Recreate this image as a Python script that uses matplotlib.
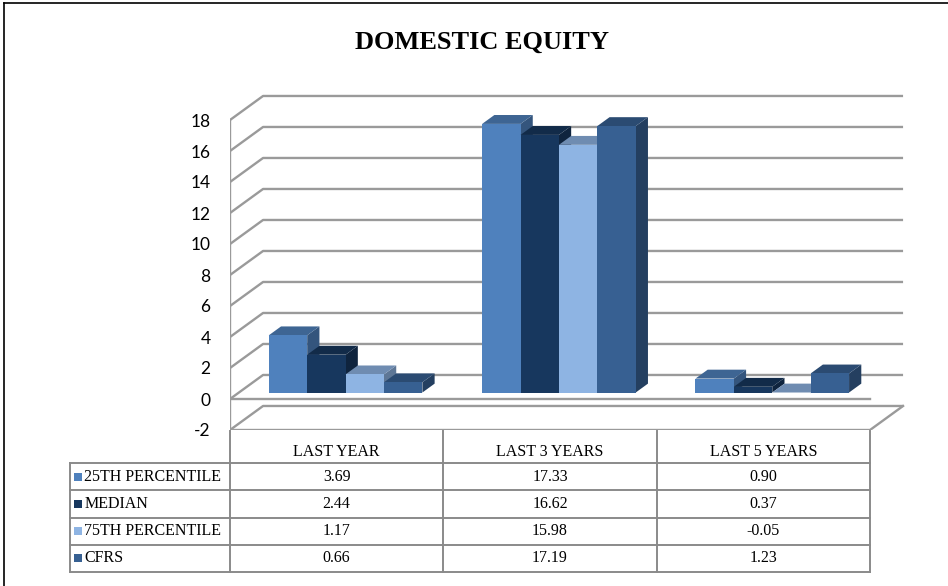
import numpy as np
import matplotlib.pyplot as plt
from matplotlib.patches import Polygon, Rectangle
from matplotlib.colors import to_rgb

categories = ['LAST YEAR', 'LAST 3 YEARS', 'LAST 5 YEARS']
series_names = ['25TH PERCENTILE', 'MEDIAN', '75TH PERCENTILE', 'CFRS']
p25 = [3.69, 17.33, 0.90]
median = [2.44, 16.62, 0.37]
p75 = [1.17, 15.98, -0.05]
cfrs = [0.66, 17.19, 1.23]
yticks = list(range(-2, 19, 2))

series = [p25, median, p75, cfrs]
colors = ['#4F81BD', '#17375E', '#8EB4E3', '#376092']
grid_color = '#9a9a9a'

W, H = 948, 586
fig = plt.figure(figsize=(W / 100, H / 100), dpi=100)

# oblique "3d" offsets (category units / value units)
DX, DY = 0.155, 1.55
D0, D1 = 0.27, 0.64      # depth range of bars
bar_w = 0.18
gap = (1 - 4 * bar_w) / 2

# main axes: x=0 at 230px, 213.33 px per category; y=-2 at 430px, 15.5 px per unit
px_cat, px_val = 640 / 3, 15.5
ax = fig.add_axes([230 / W, (H - 430) / H, 680 / W, 340 / H])
ax.set_xlim(0, 680 / px_cat)
ax.set_ylim(-2, -2 + 340 / px_val)
for s in ax.spines.values():
    s.set_visible(False)
ax.set_xticks([])
ax.set_yticks(yticks)
ax.set_yticklabels([str(t) for t in yticks], family='Lato', fontsize=12.5)
ax.tick_params(axis='y', length=0, pad=14)
ax.patch.set_alpha(0)


def P(x, y, d):
    return (x + d * DX, y + d * DY)


# walls / gridlines
n = len(categories)
for t in yticks:
    xs = [0, DX, n + DX]
    ys = [t, t + DY, t + DY]
    ax.plot(xs, ys, color=grid_color, lw=1.7, zorder=1, solid_capstyle='butt')
ax.plot([0, 0], [-2, 18], color=grid_color, lw=1.7, zorder=1)
# floor front and right edges
ax.plot([0, n, n + DX], [-2, -2, -2 + DY], color=grid_color, lw=1.7, zorder=1)
# category axis line at zero
ax.plot([0, n], [0, 0], color=grid_color, lw=1.7, zorder=1)


def shade(c, f):
    r, g, b = to_rgb(c)
    return (r * f, g * f, b * f)


z = 2
for i in range(n):
    for j, vals in enumerate(series):
        v = vals[i]
        x0 = i + gap + j * bar_w
        y0, y1 = min(0, v), max(0, v)
        front = [P(x0, y0, D0), P(x0 + bar_w, y0, D0), P(x0 + bar_w, y1, D0), P(x0, y1, D0)]
        top = [P(x0, y1, D0), P(x0 + bar_w, y1, D0), P(x0 + bar_w, y1, D1), P(x0, y1, D1)]
        side = [P(x0 + bar_w, y0, D0), P(x0 + bar_w, y0, D1), P(x0 + bar_w, y1, D1), P(x0 + bar_w, y1, D0)]
        ax.add_patch(Polygon(side, closed=True, fc=shade(colors[j], 0.66), ec='none', zorder=z))
        ax.add_patch(Polygon(top, closed=True, fc=shade(colors[j], 0.78), ec='none', zorder=z + 1))
        ax.add_patch(Polygon(front, closed=True, fc=colors[j], ec='none', zorder=z + 2))
        z += 3

# data table
tab = fig.add_axes([70 / W, (H - 573) / H, 800 / W, 142 / H])
tab.set_xlim(-0.75, 3)
tab.set_ylim(142, 0)
tab.axis('off')
row_edges = [0, 32, 59.25, 86.5, 113.75, 141]
tcol = '#8a8a8a'
for x in [0, 1, 2, 3]:
    tab.plot([x, x], [0, row_edges[-1]], color=tcol, lw=1.4, clip_on=False)
tab.plot([-0.75, -0.75], [row_edges[1], row_edges[-1]], color=tcol, lw=1.4, clip_on=False)
for r in row_edges[1:]:
    tab.plot([-0.75, 3], [r, r], color=tcol, lw=1.4, clip_on=False)
serif = 'Liberation Serif'
for i, c in enumerate(categories):
    tab.text(i + 0.5, 21, c, ha='center', va='center', family=serif, fontsize=11.5)
for j, (name, vals) in enumerate(zip(series_names, series)):
    yc = (row_edges[j + 1] + row_edges[j + 2]) / 2
    tab.add_patch(Rectangle((-0.73, yc - 4), 8 / px_cat, 8, fc=colors[j], ec='none', clip_on=False))
    tab.text(-0.73 + 10 / px_cat, yc, name, ha='left', va='center', family=serif, fontsize=11.5)
    for i, v in enumerate(vals):
        tab.text(i + 0.5, yc, '{:.2f}'.format(v), ha='center', va='center', family=serif, fontsize=11.5)

# title and outer border
fig.text(0.508, 1 - 42 / H, 'DOMESTIC EQUITY', ha='center', va='center',
         family=serif, fontweight='bold', fontsize=19)
fig.add_artist(plt.Line2D([4 / W, 4 / W], [0, 1 - 3 / H], color='black', lw=1.2))
fig.add_artist(plt.Line2D([4 / W, 1], [1 - 3 / H, 1 - 3 / H], color='black', lw=1.2))

fig.savefig('out.png', dpi=100)
